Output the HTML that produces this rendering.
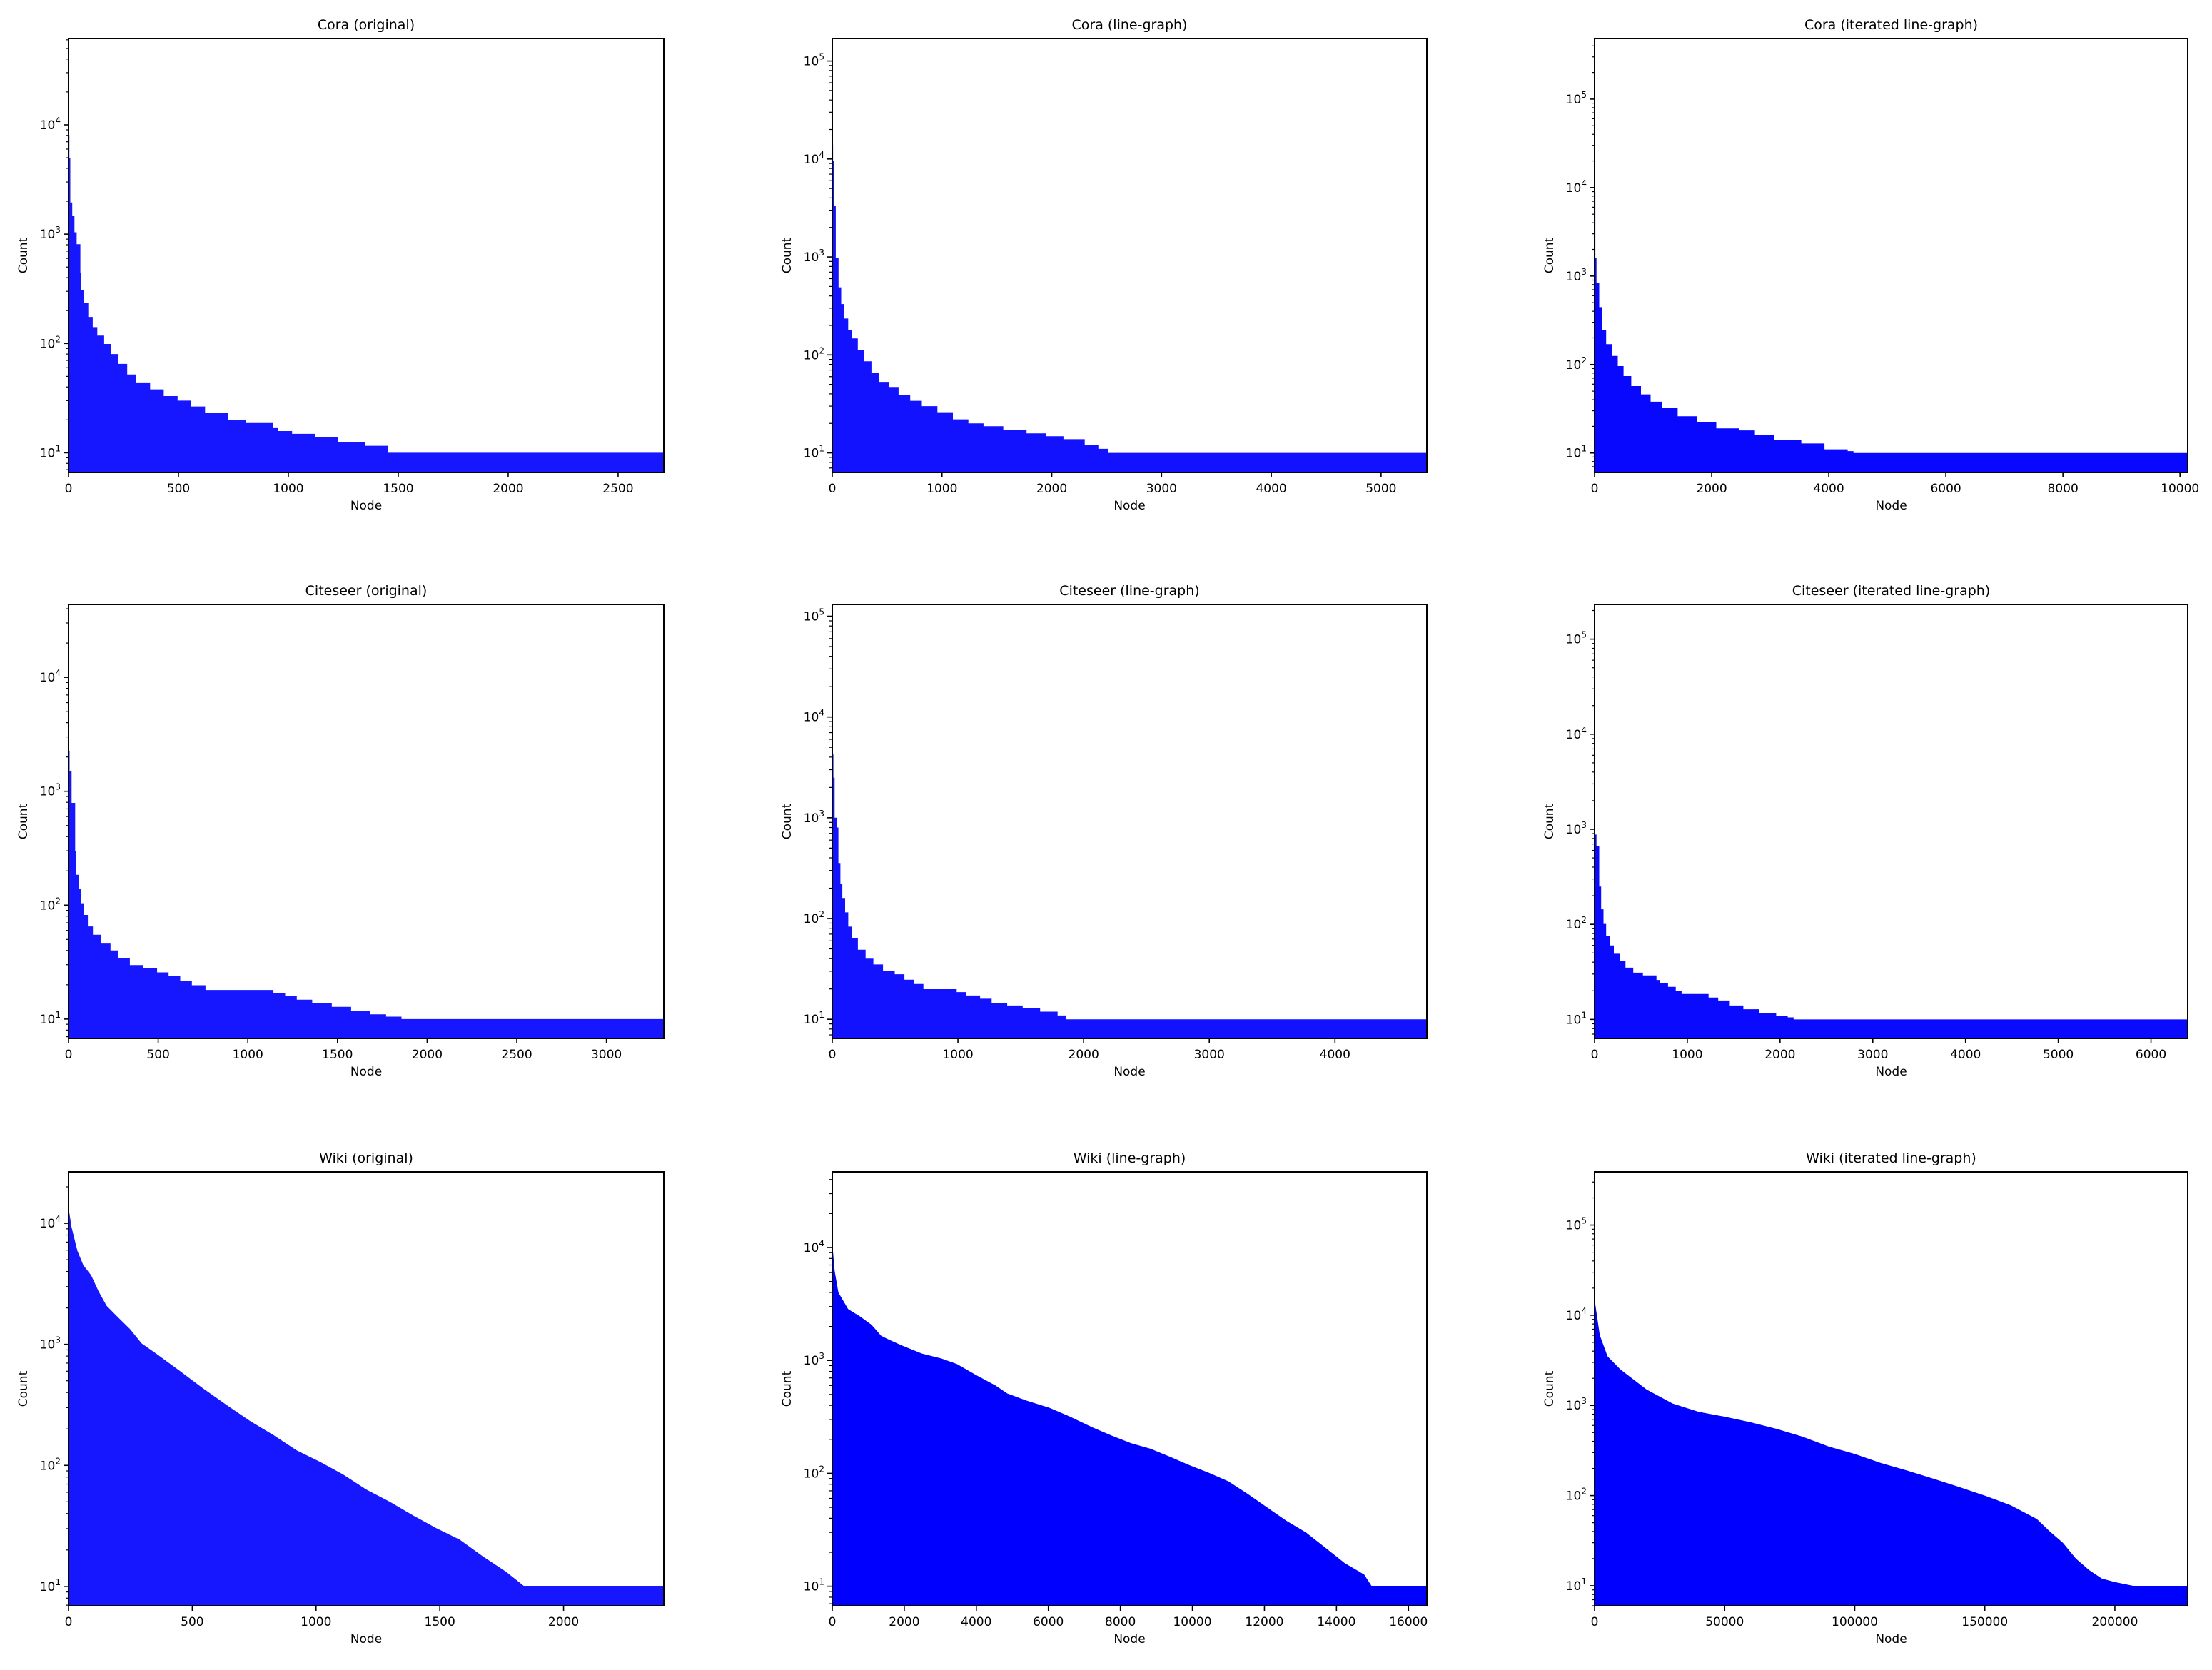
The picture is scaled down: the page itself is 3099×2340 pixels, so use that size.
<!DOCTYPE html>
<html><head><meta charset="utf-8"><style>
html,body{margin:0;padding:0;background:#fff;}
svg text{font-family:"DejaVu Sans","Liberation Sans",sans-serif;fill:#000;}
</style></head>
<body>
<svg id="fig" xmlns="http://www.w3.org/2000/svg" width="3099" height="2335" viewBox="0 0 3099 2335">
<rect x="0" y="0" width="3099" height="2335" fill="#fff"/>
</svg>
<script>
// ---- data: node-index breakpoints and counts (count[i] begins at nodes[i]) ----
const coraOrigNodes = [0,4,8,17,27,37,54,58,69,90,110,131,162,194,225,267,308,371,433,496,558,621,725,808,929,954,1017,1121,1225,1350,1454,1527,1552,2708];
const coraOrigCounts = [8100,4950,1950,1470,1040,810,440,310,233,175,141,118,99,80,65,52,44,38,33,30,26.5,23,20,18.7,16.8,15.8,14.9,13.9,12.6,11.6,10,10,10];
const coraLGNodes = [0,7,14,32,57,81,110,145,180,233,286,357,428,516,604,710,816,958,1099,1240,1378,1558,1770,1947,2106,2300,2424,2512,5417];
const coraLGCounts = [14000,9600,3300,970,490,330,235,180,147,112,86,65,53,47,39,34,30,26,22,20,18.7,17,15.8,14.8,13.8,12,11,10];
const coraILGNodes = [0,13,33,79,132,198,297,396,495,627,792,957,1155,1419,1749,2079,2475,2739,3069,3531,3927,4323,4422,10132];
const coraILGCounts = [8900,1600,840,445,245,170,125,96,74,57,46,38,32.6,26,22.4,19,18,16,14,12.8,11,10.5,10];
const citeOrigNodes = [0,6,17,37,43,56,71,87,108,136,180,234,277,342,418,494,558,623,688,764,1143,1208,1273,1359,1468,1576,1684,1771,1857,3320];
const citeOrigCounts = [2250,1500,790,300,185,138,104,82,65,55,46,40,34.5,29.8,28,25.7,24,21.6,19.8,18,17,15.9,14.8,13.8,12.8,11.8,11,10.5,10];
const citeLGNodes = [0,9,19,34,49,65,80,102,127,157,204,265,327,404,497,574,651,725,990,1068,1176,1268,1392,1515,1654,1793,1861,4731];
const citeLGCounts = [4250,2500,1000,800,355,222,160,115,83,64,49,40,35,30,28,24.7,22.4,19.9,18.6,17.2,16,14.6,13.7,12.8,11.9,10.9,10];
const citeILGNodes = [0,8,21,50,71,96,125,167,208,271,333,417,521,667,708,792,875,938,1229,1333,1458,1604,1771,1958,2083,2146,6396];
const citeILGCounts = [3070,880,660,250,144,101,76,60,49,41,35,31,29,26,24.3,22,20,18.5,17,15.8,14,12.8,11.7,10.9,10.5,10];
const wikiOrigNodes = [0,12,36,60,91,122,154,200,248,295,357,451,545,639,733,828,922,1016,1110,1204,1298,1392,1486,1580,1674,1768,1842,2405];
const wikiOrigCounts = [13500,9300,5900,4500,3730,2730,2080,1670,1340,1020,830,600,430,315,233,178,133,107,84,63,50,38.6,30.3,24.4,17.7,13.2,10];
const wikiLGNodes = [0,65,170,440,765,1090,1360,1570,1950,2490,3030,3460,4000,4530,4860,5400,6040,6580,7230,7770,8300,8840,9380,9920,10460,11000,11530,12070,12610,13150,13690,14230,14770,14980,16510];
const wikiLGCounts = [11000,6200,4000,2850,2460,2070,1650,1530,1350,1150,1040,930,740,600,510,440,380,320,255,215,185,165,140,118,101,85,66,50,38,30,22,16,12.7,10];
const wikiILGNodes = [0,2000,5000,10000,20000,30000,40000,50000,60000,70000,80000,90000,100000,110000,120000,130000,140000,150000,160000,170000,175000,180000,185000,190000,195000,200000,207000,228000];
const wikiILGCounts = [15000,6000,3500,2500,1500,1050,850,750,650,550,450,350,290,230,190,155,125,100,78,55,40,30,20,15,12,11,10];
const titles = ["Cora (original)","Cora (line-graph)","Cora (iterated line-graph)","Citeseer (original)","Citeseer (line-graph)","Citeseer (iterated line-graph)","Wiki (original)","Wiki (line-graph)","Wiki (iterated line-graph)"];
const xTickValues = [[0,500,1000,1500,2000,2500],[0,1000,2000,3000,4000,5000],[0,2000,4000,6000,8000,10000],
  [0,500,1000,1500,2000,2500,3000],[0,1000,2000,3000,4000],[0,1000,2000,3000,4000,5000,6000],
  [0,500,1000,1500,2000],[0,2000,4000,6000,8000,10000,12000,14000,16000],[0,50000,100000,150000,200000]];
const xMax = [2708,5417,10132,3320,4731,6396,2405,16510,228000];
const logLo = [0.82,0.80,0.78,0.83,0.81,0.80,0.84,0.827,0.778];
const logHi = [4.79,5.23,5.685,4.64,5.117,5.365,4.425,4.67,5.59];
const series = [[coraOrigNodes,coraOrigCounts],[coraLGNodes,coraLGCounts],[coraILGNodes,coraILGCounts],
  [citeOrigNodes,citeOrigCounts],[citeLGNodes,citeLGCounts],[citeILGNodes,citeILGCounts],
  [wikiOrigNodes,wikiOrigCounts],[wikiLGNodes,wikiLGCounts],[wikiILGNodes,wikiILGCounts]];

const NS = "http://www.w3.org/2000/svg";
const fig = document.getElementById('fig');
const colL = [96,1166,2234], colW = [834,833,831];
const rowT = [54,847,1642], rowH = 608;
const fills = ["#1717ff","#1212ff","#0808ff","#1717ff","#1212ff","#0a0aff","#1717ff","#0000ff","#0000ff"];
const smooth = [false,false,false,false,false,false,true,true,true];
function mk(tag, attrs, parent){ const e=document.createElementNS(NS,tag); for(const k in attrs) e.setAttribute(k,attrs[k]); (parent||fig).appendChild(e); return e; }

for(let p=0;p<9;p++){
  const L=colL[p%3], W=colW[p%3], T=rowT[Math.floor(p/3)], H=rowH, B=T+H;
  const lo=logLo[p], hi=logHi[p], xm=xMax[p];
  const xs = v => L + v/xm*W;
  const ys = v => B - (Math.log10(v)-lo)/(hi-lo)*H;
  const g = mk('g',{});
  
  
  const nodes=series[p][0], counts=series[p][1];
  let d='M'+xs(nodes[0]).toFixed(1)+','+B;
  if(smooth[p]){
    for(let i=0;i<counts.length;i++){
      d+=' L'+xs(nodes[i]).toFixed(1)+','+Math.max(T,ys(counts[i])).toFixed(1);
    }
    d+=' L'+xs(nodes[nodes.length-1]).toFixed(1)+','+ys(counts[counts.length-1]).toFixed(1);
  } else {
    for(let i=0;i<counts.length;i++){
      const y=Math.max(T,ys(counts[i]));
      d+=' L'+xs(nodes[i]).toFixed(1)+','+y.toFixed(1)+' L'+xs(nodes[i+1]).toFixed(1)+','+y.toFixed(1);
    }
  }
  d+=' L'+xs(nodes[nodes.length-1]).toFixed(1)+','+B+' Z';
  const bars = mk('path',{d:d,fill:fills[p]},g);
  
  
  const fr = mk('rect',{x:L,y:T,width:W,height:H,fill:'none',stroke:'#000','stroke-width':2},g);
  
  
  for(let dec=0;dec<=6;dec++){
    for(let m=1;m<10;m++){
      const v=m*Math.pow(10,dec), lv=Math.log10(v);
      if(lv<lo||lv>hi) continue;
      const y=ys(v);
      mk('line',{x1:L,x2:L-(m===1?7:4),y1:y,y2:y,stroke:'#000','stroke-width':m===1?1.6:1.2},g);
      if(m===1){
        const t=mk('text',{x:L-11,y:y+6,'text-anchor':'end','font-size':17},g);
        
        
        t.innerHTML='10<tspan dy="-8" font-size="12">'+dec+'</tspan>';
      }
    }
  }
  xTickValues[p].forEach(v=>{
    const x=xs(v);
    mk('line',{x1:x,x2:x,y1:B,y2:B+7,stroke:'#000','stroke-width':1.6},g);
    const t=mk('text',{x:x,y:B+28,'text-anchor':'middle','font-size':17},g);
    
    
    t.textContent=String(v);
  });
  const tt=mk('text',{x:L+W/2,y:T-13,'text-anchor':'middle','font-size':19},g);
  
  
  tt.textContent=titles[p];
  const xl=mk('text',{x:L+W/2,y:B+52,'text-anchor':'middle','font-size':17},g);
  
  
  xl.textContent='Node';
  const yl=mk('text',{x:0,y:0,'text-anchor':'middle','font-size':17,transform:'translate('+(L-58)+','+(T+H/2)+') rotate(-90)'},g);
  
  
  yl.textContent='Count';
}
</script>
</body></html>
